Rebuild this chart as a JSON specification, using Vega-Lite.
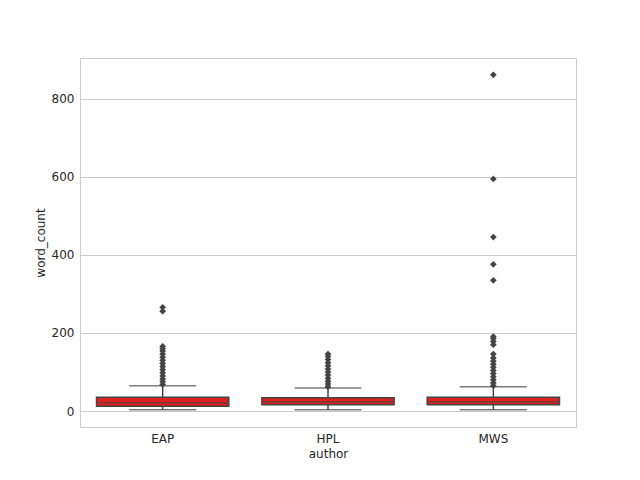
{"$schema":"https://vega.github.io/schema/vega-lite/v6.json","width":496,"height":369,"autosize":"none","padding":{"left":80,"top":58,"right":64,"bottom":53},
"datasets":{"box":[{"author":"EAP","lo":3,"q1":12,"med":21,"q3":35,"hi":65},{"author":"HPL","lo":3,"q1":16,"med":23,"q3":34,"hi":59},{"author":"MWS","lo":3,"q1":16,"med":23,"q3":35,"hi":62}],
"out":[{"author":"EAP","v":68},{"author":"EAP","v":75},{"author":"EAP","v":82},{"author":"EAP","v":90},{"author":"EAP","v":98},{"author":"EAP","v":106},{"author":"EAP","v":114},{"author":"EAP","v":122},{"author":"EAP","v":130},{"author":"EAP","v":138},{"author":"EAP","v":146},{"author":"EAP","v":154},{"author":"EAP","v":160},{"author":"EAP","v":166},{"author":"EAP","v":256},{"author":"EAP","v":266},
{"author":"HPL","v":62},{"author":"HPL","v":69},{"author":"HPL","v":76},{"author":"HPL","v":84},{"author":"HPL","v":92},{"author":"HPL","v":100},{"author":"HPL","v":108},{"author":"HPL","v":116},{"author":"HPL","v":124},{"author":"HPL","v":132},{"author":"HPL","v":140},{"author":"HPL","v":146},
{"author":"MWS","v":65},{"author":"MWS","v":72},{"author":"MWS","v":80},{"author":"MWS","v":88},{"author":"MWS","v":96},{"author":"MWS","v":104},{"author":"MWS","v":112},{"author":"MWS","v":120},{"author":"MWS","v":128},{"author":"MWS","v":136},{"author":"MWS","v":146},{"author":"MWS","v":170},{"author":"MWS","v":178},{"author":"MWS","v":186},{"author":"MWS","v":191},{"author":"MWS","v":335},{"author":"MWS","v":376},{"author":"MWS","v":446},{"author":"MWS","v":595},{"author":"MWS","v":862}]},
"config":{"font":"DejaVu Sans","view":{"stroke":"#cccccc"},"axis":{"labelFontSize":12,"titleFontSize":12,"titleFontWeight":"normal","labelColor":"#262626","titleColor":"#262626","ticks":false,"domain":false,"labelPadding":6}},
"encoding":{"x":{"field":"author","type":"nominal","sort":["EAP","HPL","MWS"],"scale":{"paddingInner":0.2,"paddingOuter":0.1},"axis":{"labelAngle":0,"grid":false,"title":"author"}}},
"layer":[
{"data":{"name":"box"},"mark":{"type":"rule","color":"#444444","strokeWidth":1.5},"encoding":{"y":{"field":"lo","type":"quantitative","scale":{"domain":[-41,905],"nice":false,"zero":false},"axis":{"title":"word_count","values":[0,200,400,600,800],"gridColor":"#cccccc"}},"y2":{"field":"hi"}}},
{"data":{"name":"box"},"mark":{"type":"tick","color":"#444444","size":67,"thickness":1.5},"encoding":{"y":{"field":"lo","type":"quantitative"}}},
{"data":{"name":"box"},"mark":{"type":"tick","color":"#444444","size":67,"thickness":1.5},"encoding":{"y":{"field":"hi","type":"quantitative"}}},
{"data":{"name":"out"},"mark":{"type":"point","shape":"diamond","filled":true,"color":"#444444","size":45,"opacity":1},"encoding":{"y":{"field":"v","type":"quantitative"}}},
{"data":{"name":"box"},"mark":{"type":"bar","fill":"#e02020","stroke":"#444444","strokeWidth":1.5},"encoding":{"y":{"field":"q1","type":"quantitative"},"y2":{"field":"q3"}}},
{"data":{"name":"box"},"mark":{"type":"tick","color":"#444444","size":130,"thickness":1.5},"encoding":{"y":{"field":"med","type":"quantitative"}}}
]}
